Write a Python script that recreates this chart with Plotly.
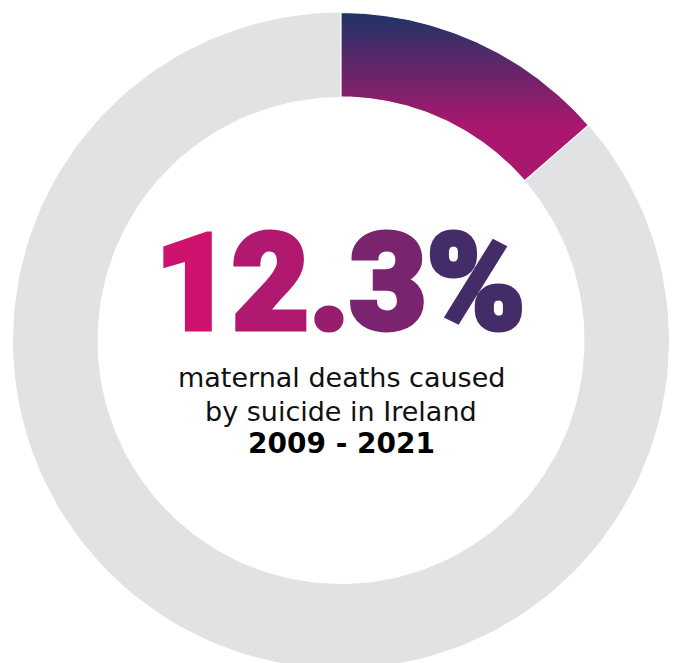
import numpy as np
import plotly.graph_objects as go

# ---- data ----
categories = ["Suicide", "Other causes"]
arc_share = [13.6, 86.4]          # share of the ring covered by each segment, as drawn
headline = "12.3%"
subtitle_lines = ["maternal deaths caused", "by suicide in Ireland"]
period = "2009 - 2021"

# ---- styling ----
R_OUT, R_IN = 328, 243.5
GREY = "#e1e2e4"
headline_colors = ["#d0126f", "#b0196f", "#981d6f", "#7a2470", "#442c69"]

def ring_polygon(a0, a1, n=200):
    th = np.linspace(a0, a1, n)
    xo, yo = R_OUT * np.sin(th), R_OUT * np.cos(th)
    xi, yi = R_IN * np.sin(th[::-1]), R_IN * np.cos(th[::-1])
    x = np.concatenate([xo, xi, xo[:1]])
    y = np.concatenate([yo, yi, yo[:1]])
    return x, y

total = sum(arc_share)
cum = np.concatenate([[0], np.cumsum(arc_share)]) / total * 2 * np.pi

fig = go.Figure()

# grey remainder
x, y = ring_polygon(cum[1], cum[2])
fig.add_trace(go.Scatter(x=x, y=y, fill="toself", mode="lines",
                         line=dict(width=0), fillcolor=GREY,
                         hoverinfo="skip", name=categories[1]))

# gradient slice
x, y = ring_polygon(cum[0], cum[1])
fig.add_trace(go.Scatter(x=x, y=y, fill="toself", mode="lines",
                         line=dict(width=1.2, color="white"),
                         fillgradient=dict(type="vertical",
                                           colorscale=[[0, "#a9176f"], [0.45, "#6a2469"], [1, "#1f3467"]],
                                           start=float(R_OUT * np.cos(cum[1])), stop=float(R_OUT)),
                         hoverinfo="skip", name=categories[0]))

# headline with per-character colours (stroked to look heavier)
head_html = "".join(
    f"<span style='color:{c};stroke:{c};stroke-width:5px;stroke-linejoin:miter'>{ch}</span>"
    for ch, c in zip(headline, headline_colors))
annotations = [
    dict(x=-1.5, y=57, text=head_html, showarrow=False, xanchor="center", yanchor="middle",
         font=dict(family="Roboto", size=133, weight=900)),
    dict(x=0, y=-36.5, text=subtitle_lines[0], showarrow=False, xanchor="center", yanchor="middle",
         font=dict(family="DejaVu Sans", size=27, color="#111111")),
    dict(x=0, y=-70.5, text=subtitle_lines[1], showarrow=False, xanchor="center", yanchor="middle",
         font=dict(family="DejaVu Sans", size=27, color="#111111")),
    dict(x=0, y=-102.5, text=period, showarrow=False, xanchor="center", yanchor="middle",
         font=dict(family="DejaVu Sans", size=28, color="#000000", weight="bold")),
]

fig.update_layout(
    width=676, height=663,
    margin=dict(l=0, r=0, t=0, b=0),
    paper_bgcolor="white", plot_bgcolor="white",
    showlegend=False,
    xaxis=dict(range=[-341, 335], visible=False, fixedrange=True),
    yaxis=dict(range=[-322.5, 340.5], visible=False, fixedrange=True),
    annotations=annotations,
)

fig.write_html("out.html")
